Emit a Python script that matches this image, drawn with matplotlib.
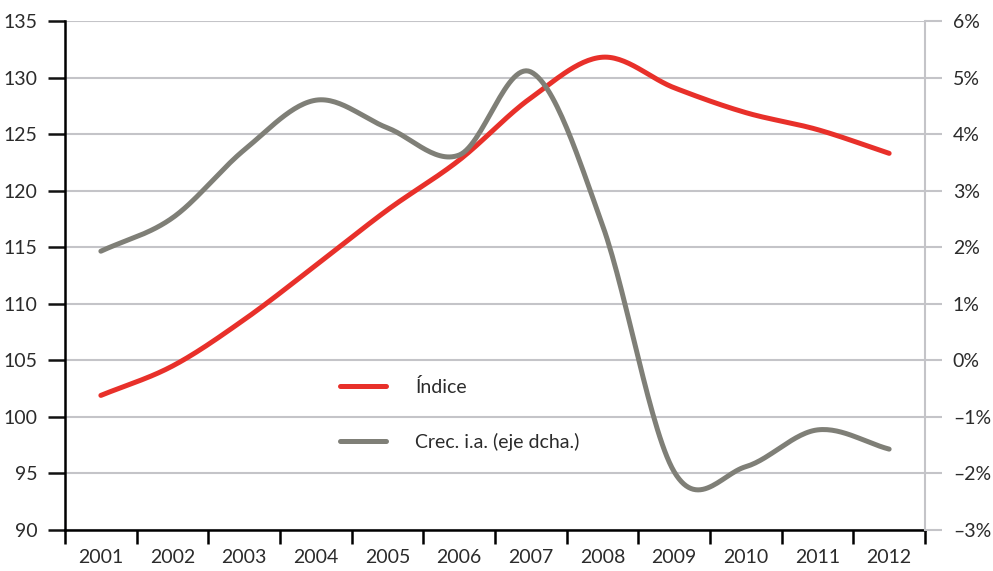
import numpy as np
import matplotlib
matplotlib.use("Agg")
from matplotlib import pyplot as plt

# дані
years = ["2001", "2002", "2003", "2004", "2005", "2006",
         "2007", "2008", "2009", "2010", "2011", "2012"]
indice = [101.9, 104.5, 108.6, 113.4, 118.3, 122.7, 128.2, 131.8, 129.1, 126.9, 125.4, 123.3]
crec = [1.93, 2.52, 3.72, 4.60, 4.11, 3.63, 5.10, 2.39, -1.97, -1.88, -1.23, -1.57]


def smooth(xs, ys, n=30):
    # згладжування як у Excel (Catmull-Rom)
    xs = np.asarray(xs, float)
    ys = np.asarray(ys, float)
    px = np.concatenate([[2 * xs[0] - xs[1]], xs, [2 * xs[-1] - xs[-2]]])
    py = np.concatenate([[2 * ys[0] - ys[1]], ys, [2 * ys[-1] - ys[-2]]])
    ox, oy = [], []
    for i in range(1, len(px) - 2):
        t = np.linspace(0, 1, n, endpoint=False)
        for p, o in ((px, ox), (py, oy)):
            p0, p1, p2, p3 = p[i - 1], p[i], p[i + 1], p[i + 2]
            o.extend(0.5 * (2 * p1 + (-p0 + p2) * t
                            + (2 * p0 - 5 * p1 + 4 * p2 - p3) * t ** 2
                            + (-p0 + 3 * p1 - 3 * p2 + p3) * t ** 3))
    ox.append(xs[-1])
    oy.append(ys[-1])
    return np.array(ox), np.array(oy)


plt.rcParams['font.family'] = ['Lato', 'DejaVu Sans']
plt.rcParams['font.size'] = 14
txt = "#2b2b2b"
red = "#e8302a"
grey = "#7f7f77"
gridc = "#c4c4c8"

fig = plt.figure(figsize=(9.93, 5.71), dpi=100)
ax = fig.add_axes([0.0655, 0.0718, 0.866, 0.8914])
ax2 = ax.twinx()

x = np.arange(len(years)) + 0.5

ax.set_ylim(90, 135)
ax.set_yticks(np.arange(90, 136, 5))
ax2.set_ylim(-3, 6)
ax2.set_yticks(np.arange(-3, 7, 1))
ax2.set_yticklabels([("–%d%%" % -v) if v < 0 else ("%d%%" % v) for v in range(-3, 7)])
ax.set_xlim(0, len(years))
ax.set_xticks(np.arange(len(years) + 1))
ax.set_xticklabels([])
ax.set_xticks(x, minor=True)
ax.set_xticklabels(years, minor=True)

ax.grid(axis="y", color=gridc, lw=1.5)
ax.set_axisbelow(True)

for s in ["top"]:
    ax.spines[s].set_visible(False)
    ax2.spines[s].set_visible(False)
ax.spines["right"].set_visible(False)
ax2.spines["left"].set_visible(False)
ax2.spines["bottom"].set_visible(False)
ax.spines["left"].set_linewidth(1.8)
ax.spines["bottom"].set_linewidth(1.8)
ax2.spines["right"].set_color(gridc)
ax2.spines["right"].set_linewidth(1.5)

ax.tick_params(axis="y", length=12, width=1.8, pad=8, colors="#111111", labelcolor=txt)
ax.tick_params(axis="x", which="major", length=10, width=1.8, direction="out")
ax.tick_params(axis="x", which="minor", length=0, pad=14, labelcolor=txt)
ax2.tick_params(axis="y", length=12, width=1.5, pad=8, colors=gridc, labelcolor=txt)

sx, sy = smooth(x, indice)
l1, = ax.plot(sx, sy, color=red, lw=3.6, solid_capstyle="round", label="Índice")
gx, gy = smooth(x, crec)
l2, = ax2.plot(gx, gy, color=grey, lw=3.6, solid_capstyle="round", label="Crec. i.a. (eje dcha.)")

leg = ax2.legend(handles=[l1, l2], loc="upper left", bbox_to_anchor=(0.342, 0.338),
                 bbox_transform=fig.transFigure, frameon=False, borderpad=0,
                 borderaxespad=0, handlelength=2.4, handletextpad=1.5, labelspacing=1.9)
for t in leg.get_texts():
    t.set_color(txt)

fig.savefig("out.png", dpi=100)
